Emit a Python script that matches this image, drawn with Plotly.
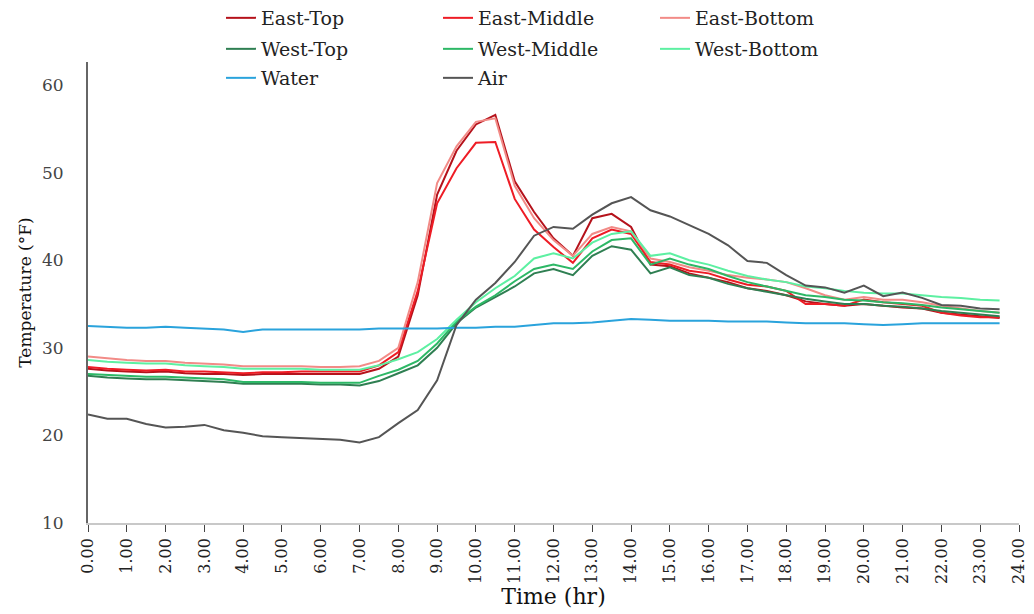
import plotly.graph_objects as go

hours = [i * 0.5 for i in range(48)]

east_top = [27.6, 27.4, 27.3, 27.2, 27.3, 27.1, 27.0, 27.0, 26.9, 27.0, 27.0, 27.0, 27.0, 27.0, 27.0, 27.6,
            29.0, 36.0, 47.5, 52.5, 55.5, 56.6, 49.0, 45.5, 42.5, 40.5, 44.8, 45.3, 43.8, 39.5, 39.3, 38.5,
            38.0, 37.5, 36.8, 36.5, 36.0, 35.3, 35.0, 34.8, 35.0, 34.8, 34.6, 34.5, 34.0, 33.8, 33.6, 33.4]
east_middle = [27.8, 27.6, 27.5, 27.4, 27.5, 27.3, 27.3, 27.2, 27.1, 27.2, 27.2, 27.3, 27.3, 27.3, 27.3, 28.0,
               29.5, 36.5, 46.5, 50.5, 53.4, 53.5, 47.0, 43.5, 41.5, 39.7, 42.5, 43.5, 43.0, 39.8, 39.5, 38.8,
               38.5, 37.8, 37.2, 37.0, 36.5, 35.0, 35.0, 34.8, 35.5, 35.2, 35.0, 34.8, 34.0, 33.7, 33.5, 33.5]
east_bottom = [29.0, 28.8, 28.6, 28.5, 28.5, 28.3, 28.2, 28.1, 27.9, 27.9, 27.9, 27.9, 27.8, 27.8, 27.9, 28.5,
               30.0, 37.5, 48.8, 53.0, 55.8, 56.2, 48.5, 44.8, 42.3, 40.5, 43.0, 43.8, 43.3, 40.2, 39.8, 39.2,
               38.8, 38.3, 38.0, 37.8, 37.5, 36.8, 36.0, 35.5, 35.8, 35.5, 35.5, 35.2, 34.8, 34.5, 34.2, 34.0]
west_top = [26.8, 26.6, 26.5, 26.4, 26.4, 26.3, 26.2, 26.1, 25.9, 25.9, 25.9, 25.9, 25.8, 25.8, 25.7, 26.2,
            27.1, 28.0, 30.0, 32.8, 34.6, 35.8, 37.0, 38.5, 39.0, 38.3, 40.5, 41.6, 41.2, 38.5, 39.2, 38.3,
            38.0, 37.3, 36.8, 36.4, 36.0, 35.6, 35.3, 35.0, 35.0, 34.8, 34.7, 34.5, 34.2, 34.0, 33.8, 33.6]
west_middle = [27.0, 26.9, 26.8, 26.7, 26.7, 26.6, 26.5, 26.4, 26.1, 26.1, 26.1, 26.1, 26.0, 26.0, 26.0, 26.8,
               27.5, 28.5, 30.5, 33.0, 34.7, 36.0, 37.6, 39.0, 39.5, 39.0, 41.0, 42.3, 42.5, 39.5, 40.2, 39.5,
               39.0, 38.2, 37.5, 37.0, 36.5, 36.0, 35.8, 35.5, 35.4, 35.2, 35.1, 34.9, 34.6, 34.4, 34.2, 34.0]
west_bottom = [28.6, 28.4, 28.3, 28.2, 28.2, 28.0, 27.9, 27.8, 27.6, 27.6, 27.6, 27.6, 27.5, 27.5, 27.5, 28.0,
               28.7, 29.5, 31.0, 33.2, 35.2, 36.8, 38.2, 40.2, 40.8, 40.2, 42.0, 43.0, 43.3, 40.5, 40.8, 40.0,
               39.5, 38.8, 38.2, 37.8, 37.5, 37.0, 36.8, 36.5, 36.3, 36.2, 36.2, 36.0, 35.8, 35.7, 35.5, 35.4]
water = [32.5, 32.4, 32.3, 32.3, 32.4, 32.3, 32.2, 32.1, 31.8, 32.1, 32.1, 32.1, 32.1, 32.1, 32.1, 32.2,
         32.2, 32.2, 32.2, 32.3, 32.3, 32.4, 32.4, 32.6, 32.8, 32.8, 32.9, 33.1, 33.3, 33.2, 33.1, 33.1,
         33.1, 33.0, 33.0, 33.0, 32.9, 32.8, 32.8, 32.8, 32.7, 32.6, 32.7, 32.8, 32.8, 32.8, 32.8, 32.8]
air = [22.4, 21.9, 21.9, 21.3, 20.9, 21.0, 21.2, 20.6, 20.3, 19.9, 19.8, 19.7, 19.6, 19.5, 19.2, 19.8,
       21.4, 22.9, 26.3, 32.6, 35.5, 37.4, 39.8, 42.8, 43.8, 43.6, 45.2, 46.5, 47.2, 45.7, 45.0, 44.0,
       43.0, 41.7, 39.9, 39.7, 38.3, 37.1, 36.9, 36.3, 37.1, 35.9, 36.3, 35.7, 34.9, 34.8, 34.5, 34.4]

x_ticks = list(range(25))
x_tick_labels = [f"{v}.00" for v in x_ticks]
y_ticks = [10, 20, 30, 40, 50, 60]

series = [
    ("East-Top", east_top, "#B5121B", "legend"),
    ("East-Middle", east_middle, "#EE1C25", "legend"),
    ("East-Bottom", east_bottom, "#F28B87", "legend"),
    ("West-Top", west_top, "#2F7F52", "legend2"),
    ("West-Middle", west_middle, "#2DB866", "legend2"),
    ("West-Bottom", west_bottom, "#5DF0A2", "legend2"),
    ("Water", water, "#2AA3DC", "legend3"),
    ("Air", air, "#555555", "legend3"),
]

W, H = 1026, 606  # page has an 8px body margin
FONT = "DejaVu Serif"
fig = go.Figure()
for name, vals, color, lg in series:
    fig.add_trace(go.Scatter(x=hours, y=vals, name=name, mode="lines",
                             line=dict(color=color, width=2), legend=lg))

leg_common = dict(orientation="h", xref="container", yref="container", x=213 / W,
                  xanchor="left", yanchor="middle", entrywidth=172, entrywidthmode="pixels",
                  font=dict(family=FONT, size=19, color="#222"), bgcolor="rgba(0,0,0,0)",
                  traceorder="normal", itemwidth=30)
fig.update_layout(
    width=W, height=H,
    margin=dict(l=80, r=15, t=54, b=91, autoexpand=False),
    paper_bgcolor="white", plot_bgcolor="white",
    font=dict(family=FONT, color="#222"),
    legend=dict(**leg_common, y=1 - 10 / H),
    legend2=dict(**leg_common, y=1 - 41 / H),
    legend3=dict(**leg_common, y=1 - 70 / H),
    xaxis=dict(range=[0, 24], tickvals=x_ticks, ticktext=x_tick_labels, tickangle=-90,
               showgrid=False, zeroline=False, showline=True, linecolor="#c8c8c8", linewidth=1.5,
               ticks="outside", ticklen=7, tickcolor="#444", tickwidth=1, automargin=False,
               tickfont=dict(family=FONT, size=16, color="#222"),
               title=dict(text="Time (hr)", font=dict(family=FONT, size=22, color="#111"), standoff=6)),
    yaxis=dict(range=[10, 62.63], tickvals=y_ticks, showgrid=False, zeroline=False,
               showline=True, linecolor="#666", linewidth=2, ticks="", automargin=False,
               ticklabelstandoff=19,
               tickfont=dict(family=FONT, size=17, color="#444"),
               title=dict(text="Temperature (°F)", font=dict(family=FONT, size=17, color="#111"), standoff=6)),
)
fig.write_html("out.html")
